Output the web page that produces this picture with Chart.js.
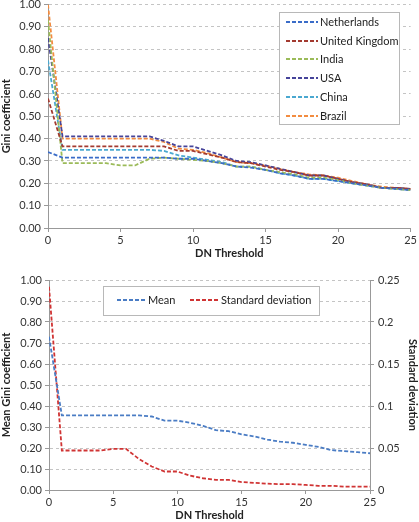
<!DOCTYPE html>
<html>
<head>
<meta charset="utf-8">
<script src="https://cdn.jsdelivr.net/npm/chart.js@4.4.1/dist/chart.umd.min.js"></script>
<style>
  html, body { margin: 0; padding: 0; background: #fff; overflow: hidden; }
  .wrap { position: relative; width: 419px; }
</style>
</head>
<body>
<div class="wrap" style="height:265px;margin-top:-5px"><canvas id="giniChart"></canvas></div>
<div class="wrap" style="height:262px"><canvas id="meanChart"></canvas></div>
<script>
// DN threshold values (x)
const thresholds = [0,1,2,3,4,5,6,7,8,9,10,11,12,13,14,15,16,17,18,19,20,21,22,23,24,25];

// Gini coefficient per country
const netherlands = [0.34,0.315,0.315,0.315,0.315,0.315,0.315,0.315,0.315,0.31,0.31,0.30,0.29,0.275,0.27,0.26,0.245,0.235,0.22,0.22,0.21,0.20,0.19,0.18,0.175,0.17];
const unitedKingdom = [0.58,0.365,0.365,0.365,0.365,0.365,0.365,0.365,0.365,0.345,0.345,0.33,0.315,0.295,0.29,0.275,0.26,0.25,0.235,0.235,0.22,0.205,0.195,0.18,0.18,0.175];
const india = [0.93,0.29,0.29,0.29,0.29,0.28,0.28,0.31,0.315,0.31,0.305,0.30,0.29,0.275,0.275,0.26,0.25,0.24,0.225,0.225,0.215,0.20,0.19,0.18,0.175,0.17];
const usa = [0.85,0.41,0.41,0.41,0.41,0.41,0.41,0.41,0.39,0.365,0.365,0.345,0.325,0.30,0.295,0.28,0.265,0.25,0.235,0.235,0.22,0.205,0.195,0.18,0.18,0.175];
const china = [0.75,0.35,0.35,0.35,0.35,0.35,0.35,0.35,0.345,0.325,0.315,0.305,0.295,0.275,0.275,0.26,0.245,0.235,0.22,0.22,0.21,0.20,0.19,0.18,0.175,0.17];
const brazil = [1.00,0.40,0.40,0.40,0.40,0.40,0.40,0.40,0.385,0.355,0.35,0.335,0.315,0.295,0.29,0.28,0.265,0.25,0.24,0.235,0.225,0.21,0.195,0.185,0.18,0.175];

// Mean and standard deviation across countries
const meanGini = [0.73,0.355,0.355,0.355,0.355,0.355,0.355,0.355,0.35,0.33,0.33,0.32,0.305,0.285,0.28,0.265,0.255,0.24,0.23,0.225,0.215,0.205,0.19,0.185,0.18,0.175];
const stdGini = [0.242,0.047,0.047,0.047,0.047,0.049,0.049,0.037,0.028,0.022,0.022,0.017,0.014,0.012,0.012,0.0095,0.0085,0.0075,0.007,0.007,0.006,0.005,0.005,0.004,0.004,0.004];

const FONT = "Lato";
const DASH = [4, 2];

function pts(ys) {
  return thresholds.map((x, i) => ({ x: x, y: ys[i] }));
}

function line(label, ys, color, axis) {
  return {
    label: label, data: pts(ys), borderColor: color, backgroundColor: color,
    borderWidth: 1.8, borderDash: DASH, pointRadius: 0, tension: 0, fill: false,
    yAxisID: axis || "y"
  };
}

// draws a boxed legend inside the plot (Excel style)
const boxLegend = {
  id: "boxLegend",
  afterDatasetsDraw(chart, args, o) {
    const ctx = chart.ctx;
    ctx.save();
    ctx.fillStyle = "#fff";
    ctx.strokeStyle = "#b8b8b8";
    ctx.lineWidth = 1;
    ctx.fillRect(o.box[0], o.box[1], o.box[2], o.box[3]);
    ctx.strokeRect(o.box[0] + 0.5, o.box[1] + 0.5, o.box[2], o.box[3]);
    ctx.font = "11px " + FONT;
    ctx.textBaseline = "middle";
    chart.data.datasets.forEach((ds, i) => {
      const [x, y] = o.items[i];
      ctx.strokeStyle = ds.borderColor;
      ctx.lineWidth = 1.8;
      ctx.setLineDash(DASH);
      ctx.beginPath();
      ctx.moveTo(x, y);
      ctx.lineTo(x + o.sample, y);
      ctx.stroke();
      ctx.setLineDash([]);
      ctx.fillStyle = "#222";
      ctx.fillText(ds.label, x + o.sample + 2, y);
    });
    ctx.restore();
  }
};

const tickFont = { family: FONT, size: 11 };
const titleFont = { family: FONT, size: 11, weight: "bold" };

function xAxis() {
  return {
    type: "linear", min: 0, max: 25,
    ticks: { stepSize: 5, color: "#333", font: tickFont, padding: 2, maxRotation: 0 },
    grid: { drawOnChartArea: false, tickLength: 4, tickColor: "#999" },
    border: { color: "#999" },
    title: { display: true, text: "DN Threshold", color: "#222", font: titleFont, padding: { top: 2, bottom: 0 } },
    afterFit: s => { s.height = 32; }
  };
}

function gridY(title, w) {
  return {
    type: "linear", min: 0, max: 1,
    ticks: { stepSize: 0.1, color: "#333", font: tickFont, padding: 3, callback: v => v.toFixed(2) },
    grid: { color: "#c4c4c4", tickLength: 4, tickColor: "#999" },
    border: { color: "#999", dash: [3, 3] },
    title: { display: true, text: title, color: "#222", font: titleFont, padding: { top: 0, bottom: 2 } },
    afterFit: s => { s.width = w; }
  };
}

new Chart(document.getElementById("giniChart"), {
  type: "line",
  data: {
    datasets: [
      line("Netherlands", netherlands, "#3a6cc8"),
      line("United Kingdom", unitedKingdom, "#a33a30"),
      line("India", india, "#9bbb59"),
      line("USA", usa, "#46449a"),
      line("China", china, "#4aa8d0"),
      line("Brazil", brazil, "#f28c40")
    ]
  },
  options: {
    responsive: true, maintainAspectRatio: false, animation: false,
    layout: { padding: { top: 0, right: 7, left: 0, bottom: 0 } },
    plugins: {
      legend: { display: false }, tooltip: { enabled: false },
      boxLegend: {
        box: [279, 17, 120, 112], sample: 32,
        items: [[286, 27], [286, 46], [286, 64], [286, 83], [286, 102], [286, 121]]
      }
    },
    scales: { x: xAxis(), y: gridY("Gini coefficient", 48) }
  },
  plugins: [boxLegend]
});

const meanY = gridY("Mean Gini coefficient", 49);
new Chart(document.getElementById("meanChart"), {
  type: "line",
  data: {
    datasets: [
      line("Mean", meanGini, "#4a7cc4", "y"),
      line("Standard deviation", stdGini, "#d03434", "y1")
    ]
  },
  options: {
    responsive: true, maintainAspectRatio: false, animation: false,
    layout: { padding: { top: 20, right: 0, left: 0, bottom: 0 } },
    plugins: {
      legend: { display: false }, tooltip: { enabled: false },
      boxLegend: {
        box: [103, 26, 216, 29], sample: 29,
        items: [[117, 40], [190, 40]]
      }
    },
    scales: {
      x: xAxis(),
      y: meanY,
      y1: {
        type: "linear", position: "right", min: 0, max: 0.25,
        ticks: { stepSize: 0.05, color: "#333", font: tickFont, padding: 4, callback: v => String(+v.toFixed(2)) },
        grid: { drawOnChartArea: false, tickLength: 4, tickColor: "#999" },
        border: { color: "#999" },
        title: { display: true, text: "Standard deviation", color: "#222", font: titleFont, padding: 0 },
        afterFit: s => { s.width = 49; }
      }
    }
  },
  plugins: [boxLegend]
});
</script>
</body>
</html>
